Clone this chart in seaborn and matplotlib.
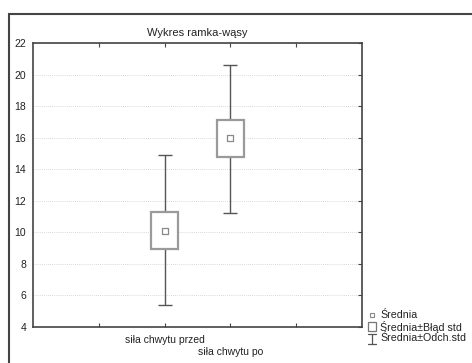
import matplotlib
matplotlib.use("Agg")
import matplotlib.pyplot as plt
import seaborn as sns
import pandas as pd
from matplotlib.patches import Rectangle
from matplotlib.lines import Line2D

categories = ["siła chwytu przed", "siła chwytu po"]
means = [10.1, 15.97]
se_low = [8.95, 14.77]
se_high = [11.28, 17.1]
sd_low = [5.39, 11.25]
sd_high = [14.87, 20.6]
yticks = [4, 6, 8, 10, 12, 14, 16, 18, 20, 22]
title = "Wykres ramka-wąsy"
legend_labels = ["Średnia", "Średnia±Błąd std", "Średnia±Odch.std"]

sns.set_style("white")
plt.rcParams["font.family"] = ["Liberation Sans", "DejaVu Sans"]

fig = plt.figure(figsize=(4.72, 3.63), dpi=100)
ax = fig.add_axes([0.0699, 0.0992, 0.697, 0.7824])

xpos = [2, 3]
df = pd.DataFrame({"x": xpos, "mean": means, "cat": categories})

# whiskers (mean ± SD)
for x, m, lo, hi in zip(xpos, means, sd_low, sd_high):
    ax.errorbar([x], [m], yerr=[[m - lo], [hi - m]], fmt="none",
                ecolor="#555555", elinewidth=1.0, capsize=5.0, capthick=1.0, zorder=2)
# boxes (mean ± SE)
ax.bar(xpos, [h - l for h, l in zip(se_high, se_low)], bottom=se_low, width=0.4,
       color="white", edgecolor="#9a9a9a", linewidth=1.6, zorder=3)
# means
sns.scatterplot(data=df, x="x", y="mean", marker="s", s=14, color="white",
                edgecolor="#888888", linewidth=0.9, ax=ax, zorder=4, legend=False)

ax.set_xlim(0, 5)
ax.set_ylim(4, 22)
ax.set_yticks(yticks)
ax.set_xticks([1, 2, 3, 4])
ax.set_xticklabels(["", categories[0], "\n" + categories[1], ""])
ax.set_xlabel("")
ax.set_ylabel("")
ax.yaxis.grid(True, linestyle=(0, (1, 1.5)), color="#cccccc", linewidth=0.6)
ax.set_axisbelow(True)
ax.tick_params(axis="both", labelsize=7.5, colors="#222222")
ax.tick_params(axis="x", direction="in", length=3, top=True, bottom=True, pad=6, color="#444444")
ax.tick_params(axis="y", direction="in", length=3, left=False, right=True, pad=5, color="#444444")
for s in ax.spines.values():
    s.set_color("#444444")
    s.set_linewidth(1.2)
ax.set_title(title, fontsize=8, pad=5, color="#222222")

# outer frame
fig.patches.append(Rectangle((9 / 472, -0.2), 1.2, (363 - 14) / 363 + 0.2,
                             transform=fig.transFigure, fill=False,
                             edgecolor="#444444", linewidth=1.5))

# legend (manual)
W, H = 472, 363
def fx(px): return px / W
def fy(py): return 1 - py / H

tx = 380
rows = [315, 327, 338]
for lab, py in zip(legend_labels, rows):
    fig.text(fx(tx), fy(py), lab, fontsize=7.7, va="center", ha="left", color="#222222")
# mean marker
fig.add_artist(Line2D([fx(372)], [fy(315)], marker="s", markersize=3.5,
                      markerfacecolor="white", markeredgecolor="#888888",
                      markeredgewidth=0.8, transform=fig.transFigure))
# box
fig.add_artist(Rectangle((fx(368), fy(331)), 8 / W, 9.5 / H, transform=fig.transFigure,
                         facecolor="white", edgecolor="#777777", linewidth=0.9))
# whisker
fig.add_artist(Line2D([fx(372), fx(372)], [fy(333.5), fy(344)], color="#555555",
                      linewidth=0.9, transform=fig.transFigure))
fig.add_artist(Line2D([fx(368), fx(376)], [fy(333.5), fy(333.5)], color="#555555",
                      linewidth=0.9, transform=fig.transFigure))
fig.add_artist(Line2D([fx(368), fx(376)], [fy(344), fy(344)], color="#555555",
                      linewidth=0.9, transform=fig.transFigure))

fig.savefig("out.png", dpi=100, facecolor="white")
